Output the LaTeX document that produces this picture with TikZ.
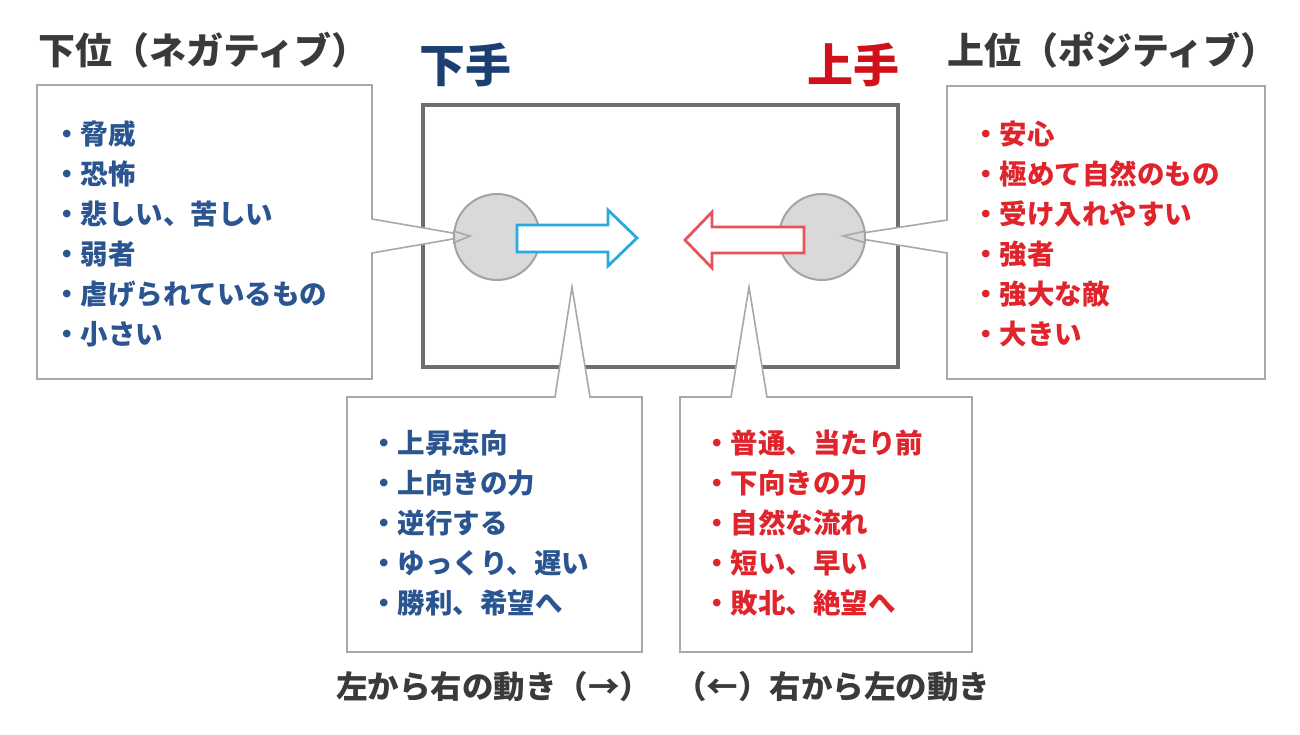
\documentclass[tikz,border=0pt]{standalone}
\usepackage{fontspec}
\newfontfamily\jp{Noto Sans CJK JP}
\definecolor{navy}{HTML}{2A5590}
\definecolor{navyT}{HTML}{1B3F70}
\definecolor{redL}{HTML}{E0242C}
\definecolor{redT}{HTML}{D0101B}
\definecolor{blueA}{HTML}{2AA9E0}
\definecolor{redA}{HTML}{E9515C}
\definecolor{frame}{HTML}{6E6E6E}
\definecolor{cbox}{HTML}{A8A8A8}
\definecolor{circf}{HTML}{D9D9D9}
\definecolor{circd}{HTML}{A3A3A3}
\definecolor{titleg}{HTML}{3A3A3A}
\tikzset{
  callout/.style={draw=cbox, line width=1.6pt, fill=white, line join=miter},
  wedge/.style={draw=cbox, line width=1.6pt},
  dot/.style={circle, fill=circf, draw=circd, line width=2pt, minimum size=86pt, inner sep=0pt},
  listtxt/.style={anchor=north west, align=left, inner sep=0pt, font={\jp\bfseries\fontsize{27.5}{40}\selectfont}},
  heading/.style={anchor=base west, inner sep=0pt, text=titleg, font={\jp\bfseries\fontsize{37}{40}\selectfont}},
  hand/.style={anchor=base west, inner sep=0pt, font={\jp\bfseries\fontsize{46}{50}\selectfont}},
  foot/.style={anchor=base west, inner sep=0pt, text=titleg, font={\jp\bfseries\fontsize{31.5}{36}\selectfont}},
  arrowshape/.style={fill=white, line width=2.8pt, line join=miter}
}
\begin{document}
\begin{tikzpicture}[x=1pt,y=-1pt]
\useasboundingbox (0,0) rectangle (1300,734);
% main frame
\draw[frame, line width=3.6pt] (423,105) rectangle (898,367);
% callouts
\coordinate (tipL) at (470,236);
\coordinate (tipR) at (843,236);
\coordinate (tipBL) at (572,287);
\coordinate (tipBR) at (749,287);
\path[callout] (37,85) -- (372,85) -- (372,219) -- (tipL) -- (372,253) -- (372,379) -- (37,379) -- cycle;
\path[callout] (947,86) -- (1265,86) -- (1265,379) -- (947,379) -- (947,253) -- (tipR) -- (947,220) -- cycle;
\path[callout] (347,397) -- (555,397) -- (tipBL) -- (590,397) -- (642,397) -- (642,652) -- (347,652) -- cycle;
\path[callout] (680,397) -- (731,397) -- (tipBR) -- (767,397) -- (972,397) -- (972,652) -- (680,652) -- cycle;
% circles
\node[dot] (cl) at (497,237) {};
\node[dot] (cr) at (822,237) {};
\draw[wedge] ([yshift=-6pt]cl.west) -- (tipL) -- ([yshift=6pt]cl.west);
\draw[wedge] ([yshift=-6pt]cr.east) -- (tipR) -- ([yshift=6pt]cr.east);
% arrows
\draw[arrowshape, draw=blueA] (517,225) -- (608,225) -- (608,210) -- (637,238) -- (608,266) -- (608,252) -- (517,252) -- cycle;
\draw[arrowshape, draw=redA] (685,240) -- (712,212) -- (712,227) -- (804,227) -- (804,253) -- (712,253) -- (712,268) -- cycle;
% headings
\node[heading] (hneg) at (38,64) {下位（ネガティブ）};
\node[heading] (hpos) at (947,64) {上位（ポジティブ）};
\node[hand, text=navyT] (shimo) at (419,82) {下手};
\node[hand, text=redT] (kami) at (807,82) {上手};
% lists
\node[listtxt, text=navy] (lneg) at (53,121) {・脅威\\・恐怖\\・悲しい、苦しい\\・弱者\\・虐げられているもの\\・小さい};
\node[listtxt, text=redL] (lpos) at (972,121) {・安心\\・極めて自然のもの\\・受け入れやすい\\・強者\\・強大な敵\\・大きい};
\node[listtxt, text=navy] (lup) at (370,430) {・上昇志向\\・上向きの力\\・逆行する\\・ゆっくり、遅い\\・勝利、希望へ};
\node[listtxt, text=redL] (ldown) at (703,430) {・普通、当たり前\\・下向きの力\\・自然な流れ\\・短い、早い\\・敗北、絶望へ};
% footers
\node[foot] (fl) at (336,698) {左から右の動き（→）};
\node[foot] (fr) at (675,698) {（←）右から左の動き};
\end{tikzpicture}
\end{document}
